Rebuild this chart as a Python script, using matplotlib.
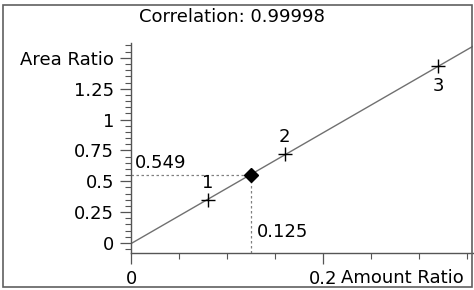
import numpy as np
import matplotlib
matplotlib.use("Agg")
import matplotlib.pyplot as plt
from matplotlib.patches import Rectangle
from matplotlib.ticker import MultipleLocator, FixedLocator

## Donnees

amount = [0.08, 0.16, 0.32]
area = [0.35, 0.72, 1.43]
labels = ["1", "2", "3"]
x_unknown = 0.125
y_unknown = 0.549
correlation = "Correlation: 0.99998"

plt.rcParams['font.family'] = ['DejaVu Sans']
fs = 13

fig = plt.figure(figsize=(4.74, 2.90), dpi=100)
ax = fig.add_axes([0.2764, 0.1276, 0.7215, 0.7241])

# droite de regression
a, b = np.polyfit(amount, area, 1)
xl = np.array([0, 0.36])
ax.plot(xl, a * xl + b, color="#707070", lw=1)

# points de calibration
ax.plot(amount, area, "+", color="black", ms=10, mew=1)
offs = [12, 12, -14]
for x, y, lab, o in zip(amount, area, labels, offs):
    ax.annotate(lab, (x, y), xytext=(0, o), textcoords="offset points",
                ha="center", va="center", fontsize=fs)

# inconnu
ax.plot([0, x_unknown], [y_unknown, y_unknown], ls=(0, (2, 2)), color="#808080", lw=0.9)
ax.plot([x_unknown, x_unknown], [-0.081, y_unknown], ls=(0, (2, 2)), color="#808080", lw=0.9)
ax.plot(x_unknown, y_unknown, "D", color="black", ms=7)
ax.text(0.004, 0.607, "0.549", fontsize=fs, va="baseline", ha="left")
ax.text(0.131, 0.049, "0.125", fontsize=fs, va="baseline", ha="left")

ax.set_xlim(0, 0.356)
ax.set_ylim(-0.081, 1.62)

ax.xaxis.set_major_locator(FixedLocator([0, 0.2]))
ax.set_xticklabels(["0", "0.2"])
ax.xaxis.set_minor_locator(MultipleLocator(0.05))
ax.yaxis.set_major_locator(FixedLocator([0, 0.25, 0.5, 0.75, 1, 1.25, 1.5]))
ax.set_yticklabels(["0", "0.25", "0.5", "0.75", "1", "1.25", "Area Ratio"])
ax.yaxis.set_minor_locator(MultipleLocator(0.05))

ax.tick_params(which="major", length=8, width=0.9, color="#555555", labelsize=fs, pad=4)
ax.tick_params(which="minor", length=4, width=0.8, color="#555555")
ax.tick_params(axis="x", which="major", pad=4)

for s in ["top", "right"]:
    ax.spines[s].set_visible(False)
for s in ["left", "bottom"]:
    ax.spines[s].set_color("#555555")
    ax.spines[s].set_linewidth(1)

# titre de l'axe x, a la suite de "0.2"
fig.text(341 / 474, 7 / 290, "Amount Ratio", fontsize=fs, ha="left", va="baseline")

fig.text(232 / 474, 1 - 17 / 290, correlation, fontsize=fs, ha="center", va="center")

# cadre
fig.patches.append(Rectangle((3 / 474, 3 / 290), 469 / 474, 282 / 290,
                             transform=fig.transFigure, fill=False,
                             edgecolor="#606060", lw=1.2))

plt.savefig("out.png", dpi=100)
